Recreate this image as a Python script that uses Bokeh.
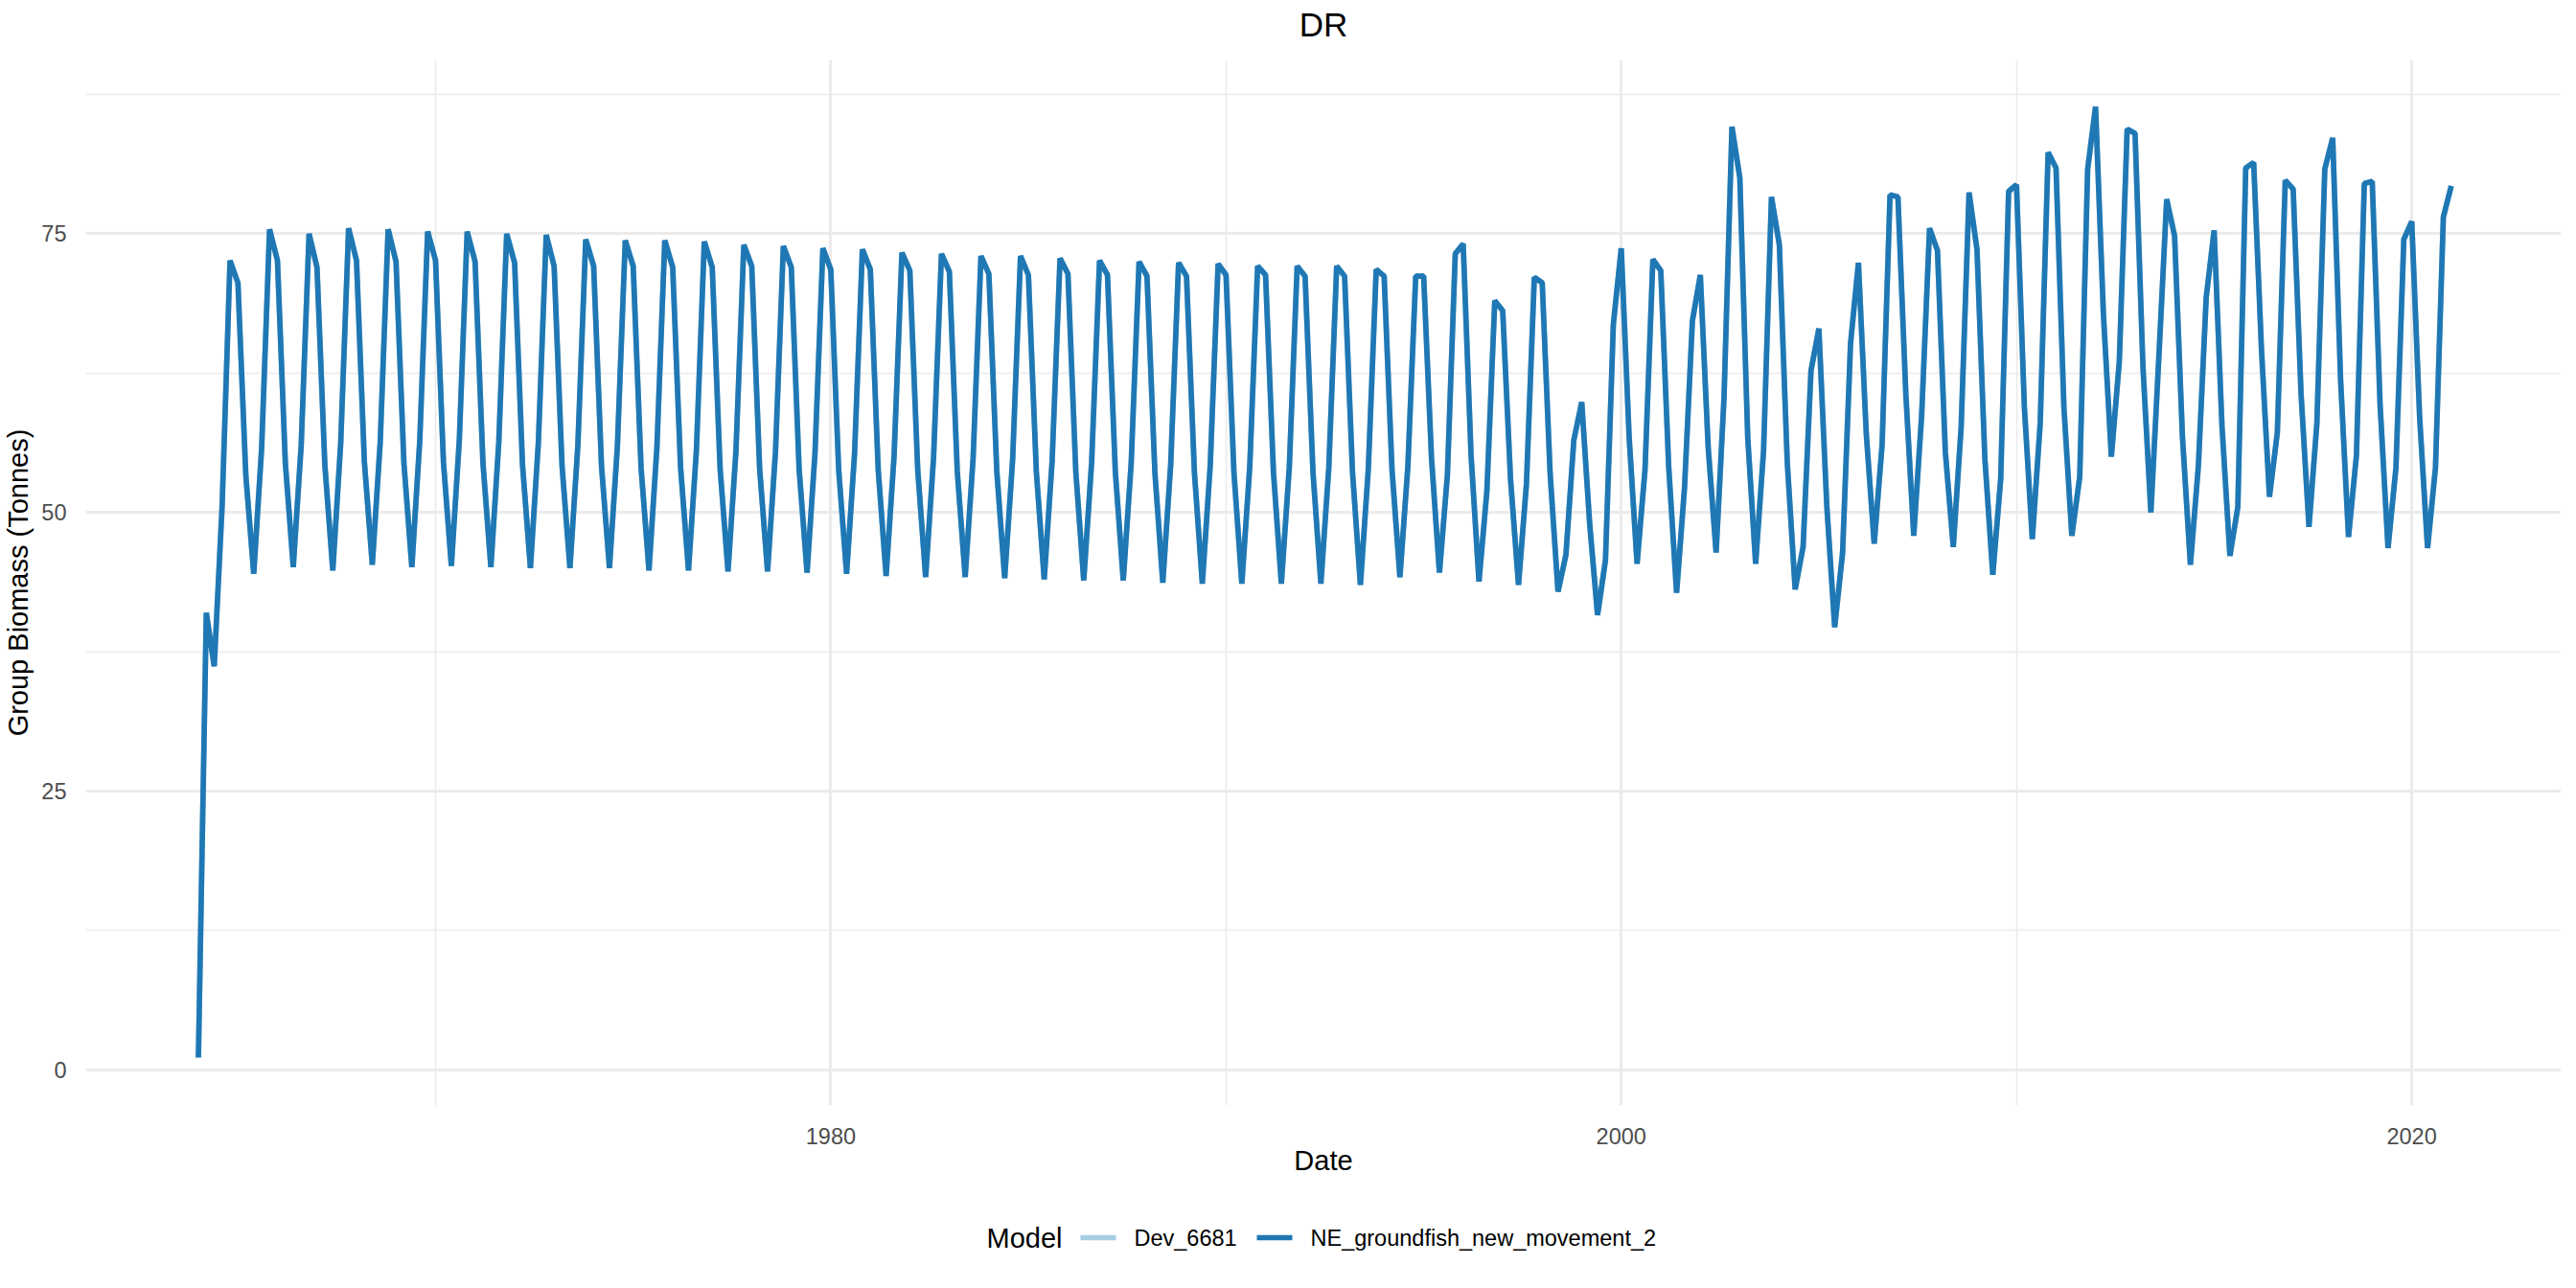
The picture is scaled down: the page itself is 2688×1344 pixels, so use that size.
import numpy as np
from bokeh.plotting import figure
from bokeh.layouts import column
from bokeh.models import Range1d, FixedTicker
from bokeh.core.properties import value
from bokeh.embed import file_html
from bokeh.resources import INLINE

# ---------------- data (5 time steps per year, starting 1964.0) ----------------
start_year = 1964.0
steps_per_year = 5

bio_1960s = [1.1, 41.0, 36.2, 50.6, 72.6,
             70.6, 53.3, 44.5, 55.8, 75.4,
             72.6, 54.4, 45.1, 56.0, 75.0,
             72.0, 54.2, 44.8, 56.2, 75.5,
             72.6, 54.5, 45.3, 56.3, 75.4,
             72.5, 54.4, 45.1, 56.4, 75.2]
bio_1970s = [72.6, 54.5, 45.2, 56.4, 75.2,
             72.5, 54.4, 45.1, 56.3, 75.0,
             72.4, 54.3, 45.0, 56.2, 74.9,
             72.1, 54.2, 45.0, 56.0, 74.5,
             72.1, 54.1, 45.0, 55.9, 74.4,
             72.1, 54.0, 44.8, 55.8, 74.4,
             72.0, 54.0, 44.8, 55.6, 74.3,
             72.0, 53.9, 44.7, 55.5, 74.0,
             72.1, 53.9, 44.7, 55.4, 73.9,
             72.0, 53.8, 44.6, 55.3, 73.7]
bio_1980s = [71.8, 53.8, 44.5, 55.2, 73.6,
             71.8, 53.8, 44.3, 55.0, 73.3,
             71.7, 53.8, 44.2, 54.9, 73.2,
             71.6, 53.7, 44.2, 54.8, 73.0,
             71.4, 53.7, 44.1, 54.7, 73.0,
             71.3, 53.7, 44.0, 54.6, 72.8,
             71.4, 53.6, 43.9, 54.5, 72.6,
             71.3, 53.6, 43.9, 54.4, 72.5,
             71.2, 53.6, 43.7, 54.3, 72.4,
             71.2, 53.6, 43.6, 54.2, 72.3]
bio_1990s = [71.3, 53.6, 43.6, 54.1, 72.1,
             71.3, 53.6, 43.6, 54.0, 72.1,
             71.2, 53.6, 43.6, 54.0, 72.1,
             71.2, 53.6, 43.5, 53.9, 71.8,
             71.2, 53.8, 44.2, 54.1, 71.2,
             71.2, 54.8, 44.6, 53.3, 73.2,
             74.1, 55.1, 43.8, 51.9, 69.0,
             68.1, 52.9, 43.5, 52.5, 71.1,
             70.6, 53.5, 42.9, 46.2, 56.5,
             59.9, 49.0, 40.8, 45.7, 66.9]
bio_2000s = [73.7, 56.7, 45.4, 53.8, 72.7,
             71.7, 54.1, 42.8, 52.2, 67.2,
             71.3, 55.8, 46.4, 60.3, 84.6,
             80.0, 56.7, 45.4, 55.5, 78.3,
             74.0, 54.5, 43.1, 46.9, 62.7,
             66.5, 50.6, 39.7, 46.4, 65.1,
             72.4, 57.0, 47.2, 56.1, 78.5,
             78.3, 60.6, 47.9, 58.7, 75.5,
             73.5, 55.4, 46.9, 57.7, 78.7,
             73.6, 54.8, 44.4, 53.0, 78.8]
bio_2010s = [79.4, 59.4, 47.6, 58.0, 82.3,
             80.9, 59.4, 47.9, 53.2, 80.8,
             86.4, 67.7, 55.0, 63.5, 84.4,
             84.0, 63.0, 50.0, 63.8, 78.1,
             74.8, 56.7, 45.3, 54.1, 69.3,
             75.3, 57.7, 46.1, 50.5, 80.9,
             81.4, 64.5, 51.4, 57.2, 79.8,
             79.0, 60.6, 48.7, 58.0, 80.8,
             83.6, 61.9, 47.8, 55.1, 79.5,
             79.7, 59.6, 46.8, 54.0, 74.5]
bio_2020s = [76.1, 58.5, 46.8, 54.0, 76.5,
             79.3]

ne_biomass = bio_1960s + bio_1970s + bio_1980s + bio_1990s + bio_2000s + bio_2010s + bio_2020s
dev_biomass = list(ne_biomass)  # identical run, hidden underneath
dates = start_year + np.arange(len(ne_biomass)) / steps_per_year

models = ["Dev_6681", "NE_groundfish_new_movement_2"]
model_colors = ["#a6cee3", "#1f78b4"]
legend_title = "Model"
chart_title = "DR"

x_major = [1980, 2000, 2020]
x_minor = [1970, 1990, 2010]
y_major = [0, 25, 50, 75]
y_minor = [12.5, 37.5, 62.5, 87.5]

FONT = "Liberation Sans"
W = 2672
TOP_H = 62
MAIN_H = 1198
LEG_H = 1328 - TOP_H - MAIN_H
LEFT, RIGHT = 89, 0
FRAME_CX = LEFT + (W - LEFT - RIGHT) / 2


def blank_fig(h):
    # same horizontal frame as the main plot, x measured in page pixels
    f = figure(width=W, height=h, output_backend="svg", toolbar_location=None,
               x_range=Range1d(LEFT, W - RIGHT), y_range=Range1d(0, h), title=None,
               x_axis_location=None, y_axis_location=None,
               min_border_left=LEFT, min_border_right=RIGHT,
               min_border_top=0, min_border_bottom=0)
    f.grid.visible = False
    f.outline_line_color = None
    f.background_fill_color = "white"
    f.border_fill_color = "white"
    return f


# ---------------- title strip ----------------
t = blank_fig(TOP_H)
t.text(x=[FRAME_CX], y=[TOP_H - 25], text=[chart_title], text_font=value(FONT),
       text_font_size="35px", text_align="center", text_baseline="middle", text_color="black")

# ---------------- main plot ----------------
p = figure(width=W, height=MAIN_H, output_backend="svg", toolbar_location=None, title=None,
           x_range=Range1d(1961.15, 2023.78), y_range=Range1d(-3.2, 90.6),
           min_border_left=LEFT, min_border_right=RIGHT, min_border_top=0,
           min_border_bottom=MAIN_H - 1091)
p.outline_line_color = None
p.background_fill_color = "white"
p.border_fill_color = "white"

p.line(dates, dev_biomass, line_color=model_colors[0], line_width=5.7)
p.line(dates, ne_biomass, line_color=model_colors[1], line_width=5.7)

p.xaxis.ticker = FixedTicker(ticks=x_major, minor_ticks=x_minor)
p.yaxis.ticker = FixedTicker(ticks=y_major, minor_ticks=y_minor)
for ax in (p.xaxis, p.yaxis):
    ax.axis_line_color = None
    ax.major_tick_line_color = None
    ax.minor_tick_line_color = None
    ax.major_label_text_font = FONT
    ax.major_label_text_font_size = "23.5px"
    ax.major_label_text_color = "#4d4d4d"
    ax.axis_label_text_font = FONT
    ax.axis_label_text_font_size = "29px"
    ax.axis_label_text_font_style = "normal"
    ax.axis_label_text_color = "black"
p.xaxis.axis_label = "Date"
p.yaxis.axis_label = "Group Biomass (Tonnes)"
p.xaxis.major_label_standoff = 17
p.xaxis.axis_label_standoff = -2
p.yaxis.major_label_standoff = 14
p.yaxis.axis_label_standoff = 5

for g in (p.xgrid, p.ygrid):
    g.grid_line_color = "#ebebeb"
    g.grid_line_width = 3
    g.minor_grid_line_color = "#ebebeb"
    g.minor_grid_line_width = 1.6

# ---------------- legend strip ----------------
lg = blank_fig(LEG_H)
ly = LEG_H - 31
key_x0 = [1127, 1311]
key_len = 37
label_x = [1183, 1367]
lg.text(x=[1029], y=[ly], text=[legend_title], text_font=value(FONT), text_font_size="29px",
        text_align="left", text_baseline="middle", text_color="black")
lg.segment(x0=key_x0, y0=[ly, ly], x1=[k + key_len for k in key_x0], y1=[ly, ly],
           line_color=model_colors, line_width=5.7)
lg.text(x=label_x, y=[ly, ly], text=models, text_font=value(FONT), text_font_size="23.5px",
        text_align="left", text_baseline="middle", text_color="black")

open("out.html", "w").write(file_html(column(t, p, lg), INLINE))
